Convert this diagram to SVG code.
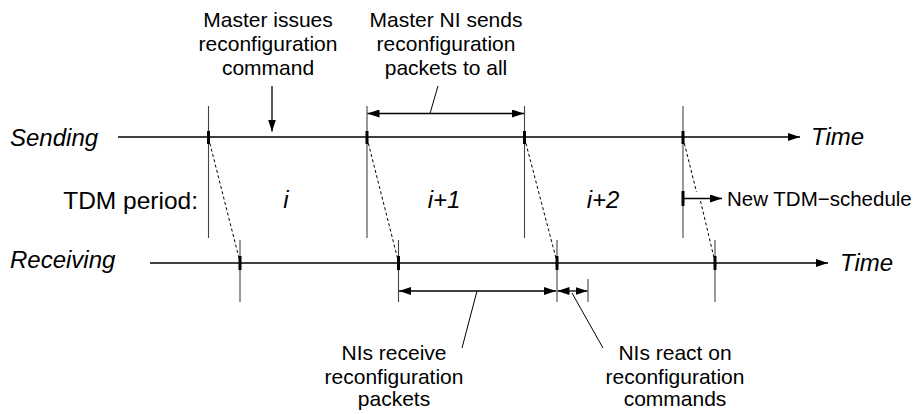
<svg xmlns="http://www.w3.org/2000/svg" width="919" height="414" viewBox="0 0 919 414">
<style>
text{font-family:"Liberation Sans",Arial,sans-serif;fill:#000}
.it{font-style:italic;font-size:24px}
.lbl{font-size:21px;text-anchor:middle}
.axis{stroke:#000;stroke-width:1.4;fill:none}
.vl{stroke:#444;stroke-width:1.1;fill:none}
.tick{stroke:#000;stroke-width:3;fill:none}
.dash{stroke:#000;stroke-width:1;stroke-dasharray:3,2.5;fill:none}
.arr{stroke:#000;stroke-width:1.3;fill:none}
.lead{stroke:#000;stroke-width:1;fill:none}
</style>
<defs>
<marker id="ah" viewBox="0 0 12 8" refX="12" refY="4" markerWidth="12" markerHeight="8" markerUnits="userSpaceOnUse" orient="auto-start-reverse">
<path d="M0,0 L12,4 L0,8 Z" fill="#000"/>
</marker>
</defs>
<rect width="919" height="414" fill="#fff"/>
<g id="labels">
<text class="it" x="10" y="146">Sending</text>
<text class="it" x="10" y="268">Receiving</text>
<text class="it" x="811" y="145">Time</text>
<text class="it" x="840" y="271">Time</text>
<text x="198" y="208.5" font-size="24.5" text-anchor="end">TDM period:</text>
<text class="it" x="286" y="208" text-anchor="middle">i</text>
<text class="it" x="444" y="208" text-anchor="middle">i+1</text>
<text class="it" x="603" y="208" text-anchor="middle">i+2</text>
<text x="727" y="206" font-size="20.5">New TDM−schedule</text>
</g>
<g id="note-master-issues">
<text class="lbl" x="268" y="27">Master issues</text>
<text class="lbl" x="268" y="51">reconfiguration</text>
<text class="lbl" x="268" y="75">command</text>
</g>
<g id="note-master-sends">
<text class="lbl" x="446" y="27">Master NI sends</text>
<text class="lbl" x="446" y="51">reconfiguration</text>
<text class="lbl" x="446" y="75">packets to all</text>
</g>
<g id="note-receive">
<text class="lbl" x="394" y="360">NIs receive</text>
<text class="lbl" x="394" y="383.5">reconfiguration</text>
<text class="lbl" x="394" y="406">packets</text>
</g>
<g id="note-react">
<text class="lbl" x="675" y="360">NIs react on</text>
<text class="lbl" x="675" y="383.5">reconfiguration</text>
<text class="lbl" x="675" y="406">commands</text>
</g>
<g id="connectors">
<!-- time axes -->
<line class="axis" x1="118" y1="137" x2="800" y2="137" marker-end="url(#ah)"/>
<line class="axis" x1="150" y1="263" x2="828" y2="263" marker-end="url(#ah)"/>
<!-- sending verticals -->
<line class="vl" x1="208.5" y1="106" x2="208.5" y2="238"/>
<line class="vl" x1="367" y1="106" x2="367" y2="238"/>
<line class="vl" x1="524.5" y1="106" x2="524.5" y2="238"/>
<line class="vl" x1="683" y1="106" x2="683" y2="238"/>
<!-- receiving verticals -->
<line class="vl" x1="240" y1="240" x2="240" y2="302"/>
<line class="vl" x1="398.5" y1="240" x2="398.5" y2="302"/>
<line class="vl" x1="557" y1="240" x2="557" y2="302"/>
<line class="vl" x1="715" y1="240" x2="715" y2="302"/>
<line class="vl" x1="588" y1="279" x2="588" y2="302"/>
<!-- ticks -->
<line class="tick" x1="208.5" y1="131" x2="208.5" y2="144"/>
<line class="tick" x1="367" y1="131" x2="367" y2="144"/>
<line class="tick" x1="524.5" y1="131" x2="524.5" y2="144"/>
<line class="tick" x1="683" y1="131" x2="683" y2="144"/>
<line class="tick" x1="240" y1="256" x2="240" y2="270"/>
<line class="tick" x1="398.5" y1="256" x2="398.5" y2="270"/>
<line class="tick" x1="557" y1="256" x2="557" y2="270"/>
<line class="tick" x1="715" y1="256" x2="715" y2="270"/>
<line class="tick" x1="683" y1="191" x2="683" y2="206"/>
<!-- propagation dashed -->
<line class="dash" x1="208.5" y1="138" x2="240" y2="262"/>
<line class="dash" x1="367" y1="138" x2="398.5" y2="262"/>
<line class="dash" x1="524.5" y1="138" x2="557" y2="262"/>
<line class="dash" x1="683" y1="138" x2="696.5" y2="192"/>
<line class="dash" x1="700.5" y1="201" x2="715" y2="262"/>
<!-- command arrow -->
<line class="arr" x1="272" y1="86" x2="272" y2="131.5" marker-end="url(#ah)"/>
<!-- sends double arrow -->
<line class="arr" x1="367.5" y1="113.5" x2="524" y2="113.5" marker-start="url(#ah)" marker-end="url(#ah)"/>
<line class="lead" x1="430" y1="113.5" x2="438" y2="86"/>
<!-- new schedule arrow -->
<line class="arr" x1="683" y1="198.5" x2="722" y2="198.5" marker-end="url(#ah)"/>
<!-- receive double arrows -->
<line class="arr" x1="399" y1="291" x2="556" y2="291" marker-start="url(#ah)" marker-end="url(#ah)"/>
<line class="arr" x1="557.5" y1="291" x2="587.5" y2="291" marker-start="url(#ah)" marker-end="url(#ah)"/>
<line class="lead" x1="477" y1="291" x2="462" y2="348"/>
<line class="lead" x1="572" y1="293" x2="603" y2="348"/>
</g>
</svg>
